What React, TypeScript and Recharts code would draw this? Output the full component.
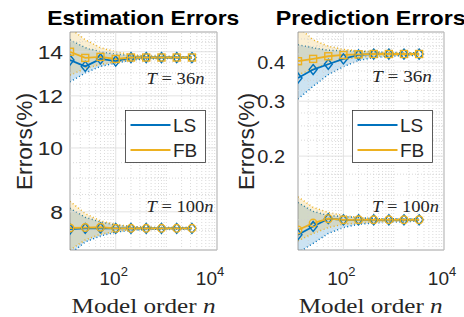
import React from "react";
import { ComposedChart, Line, Area, XAxis, YAxis, ReferenceLine, ReferenceArea } from "recharts";

const modelOrders = [12.5, 25, 50, 100, 200, 400, 800, 1600, 3200];
const seriesNames = ["LS", "FB"];
const panelTitles = ["Estimation Errors", "Prediction Errors"];
const horizonFactors = ["36", "100"];

// Estimation errors (%), T = 36n
const estLs36 = [13.6, 13.3, 13.65, 13.55, 13.72, 13.72, 13.72, 13.72, 13.72];
const estFb36 = [14.0, 13.7, 13.75, 13.65, 13.72, 13.72, 13.72, 13.72, 13.72];
const estLs36Lo = [12.6, 13.0, 13.3, 13.45, 13.6, 13.65, 13.67, 13.68, 13.69];
const estLs36Hi = [14.6, 14.2, 14.0, 13.88, 13.82, 13.79, 13.77, 13.76, 13.75];
const estFb36Lo = [12.9, 13.2, 13.4, 13.5, 13.62, 13.66, 13.68, 13.69, 13.7];
const estFb36Hi = [15.2, 14.6, 14.2, 14.0, 13.86, 13.8, 13.78, 13.76, 13.75];
// Estimation errors (%), T = 100n
const estLs100 = [7.53, 7.55, 7.56, 7.55, 7.55, 7.55, 7.55, 7.55, 7.55];
const estFb100 = [7.56, 7.57, 7.58, 7.55, 7.55, 7.55, 7.55, 7.55, 7.55];
const estLs100Lo = [6.9, 7.2, 7.35, 7.45, 7.5, 7.52, 7.53, 7.53, 7.53];
const estLs100Hi = [8.1, 7.85, 7.72, 7.64, 7.6, 7.58, 7.57, 7.57, 7.57];
const estFb100Lo = [7.0, 7.25, 7.4, 7.47, 7.51, 7.52, 7.53, 7.53, 7.53];
const estFb100Hi = [8.3, 7.95, 7.75, 7.65, 7.6, 7.58, 7.57, 7.57, 7.57];

// Prediction errors (%), T = 36n
const predLs36 = [0.356, 0.379, 0.394, 0.41, 0.422, 0.425, 0.425, 0.425, 0.425];
const predFb36 = [0.403, 0.41, 0.418, 0.422, 0.424, 0.425, 0.425, 0.425, 0.425];
const predLs36Lo = [0.305, 0.335, 0.365, 0.387, 0.405, 0.414, 0.418, 0.42, 0.421];
const predLs36Hi = [0.455, 0.445, 0.437, 0.435, 0.434, 0.432, 0.43, 0.429, 0.429];
const predFb36Lo = [0.365, 0.38, 0.397, 0.408, 0.415, 0.418, 0.42, 0.421, 0.421];
const predFb36Hi = [0.52, 0.472, 0.45, 0.44, 0.435, 0.432, 0.43, 0.429, 0.429];
// Prediction errors (%), T = 100n
const predLs100 = [0.112, 0.119, 0.126, 0.125, 0.125, 0.125, 0.125, 0.125, 0.125];
const predFb100 = [0.116, 0.122, 0.126, 0.125, 0.125, 0.125, 0.125, 0.125, 0.125];
const predLs100Lo = [0.098, 0.105, 0.113, 0.118, 0.121, 0.122, 0.123, 0.123, 0.124];
const predLs100Hi = [0.142, 0.133, 0.129, 0.128, 0.127, 0.126, 0.126, 0.126, 0.126];
const predFb100Lo = [0.107, 0.113, 0.118, 0.121, 0.122, 0.123, 0.123, 0.124, 0.124];
const predFb100Hi = [0.148, 0.137, 0.132, 0.129, 0.127, 0.126, 0.126, 0.126, 0.126];

const xTicks = [100, 10000];
const xMinor = [20, 30, 40, 50, 60, 70, 80, 90, 200, 300, 400, 500, 600, 700, 800, 900, 1000, 2000, 3000, 4000, 5000, 6000, 7000, 8000, 9000];
const estTicks = [8, 10, 12, 14];
const estMinor = [7.5, 8.5, 9, 9.5, 10.5, 11, 11.5, 12.5, 13, 13.5, 14.5];
const predTicks = [0.2, 0.3, 0.4];
const predMinor = [0.125, 0.15, 0.175, 0.225, 0.25, 0.275, 0.325, 0.35, 0.375, 0.425, 0.45, 0.475];

const SANS = "'Liberation Sans', Arial, Helvetica, sans-serif";
const SERIF = "'Liberation Serif', 'Times New Roman', serif";
const LS_COLOR = "#0072BD";
const FB_COLOR = "#EDB120";
const X_DOMAIN = [12.5, 10000];

function buildRows(ls36, fb36, ls100, fb100, bands) {
  return modelOrders.map((n, i) => ({
    n,
    ls36: ls36[i],
    fb36: fb36[i],
    ls100: ls100[i],
    fb100: fb100[i],
    lsBand36: [bands[0][i], bands[1][i]],
    fbBand36: [bands[2][i], bands[3][i]],
    lsBand100: [bands[4][i], bands[5][i]],
    fbBand100: [bands[6][i], bands[7][i]],
  }));
}

const estRows = buildRows(estLs36, estFb36, estLs100, estFb100, [
  estLs36Lo, estLs36Hi, estFb36Lo, estFb36Hi, estLs100Lo, estLs100Hi, estFb100Lo, estFb100Hi,
]);
const predRows = buildRows(predLs36, predFb36, predLs100, predFb100, [
  predLs36Lo, predLs36Hi, predFb36Lo, predFb36Hi, predLs100Lo, predLs100Hi, predFb100Lo, predFb100Hi,
]);

const XTick = (props: any) => {
  const { x, y, payload } = props;
  const exp = Math.round(Math.log10(payload.value));
  return (
    <text x={x - 2} y={y + 35} textAnchor="middle" fontFamily={SANS} fontSize={19} fill="#262626">
      <tspan>10</tspan>
      <tspan dy={-9} fontSize={13}>{exp}</tspan>
    </text>
  );
};

const makeYTick = (gap: number, size: number, sx: number) => (props: any) => {
  const { x, y, payload } = props;
  return (
    <text
      transform={`translate(${x - gap},${y + size * 0.36}) scale(${sx},1)`}
      textAnchor="end"
      fontFamily={SANS}
      fontSize={size}
      fill="#262626"
    >
      {payload.value}
    </text>
  );
};

const diamond = (color: string) => (props: any) => {
  const { cx, cy, index } = props;
  if (cx == null || cy == null) return <g key={`dm-${index}`} />;
  return (
    <path
      key={`dm-${index}`}
      d={`M${cx},${cy - 5}L${cx + 4},${cy}L${cx},${cy + 5}L${cx - 4},${cy}Z`}
      fill="none"
      stroke={color}
      strokeWidth={1.4}
    />
  );
};

const square = (color: string) => (props: any) => {
  const { cx, cy, index } = props;
  if (cx == null || cy == null) return <g key={`sq-${index}`} />;
  return <rect key={`sq-${index}`} x={cx - 3.5} y={cy - 3.5} width={7} height={7} fill="none" stroke={color} strokeWidth={1.4} />;
};

const circle = (color: string) => (props: any) => {
  const { cx, cy, index } = props;
  if (cx == null || cy == null) return <g key={`ci-${index}`} />;
  return <circle key={`ci-${index}`} cx={cx} cy={cy} r={3.8} fill="none" stroke={color} strokeWidth={1.4} />;
};

function band(key: string, color: string) {
  return (
    <Area
      key={key}
      dataKey={key}
      type="linear"
      fill={color}
      fillOpacity={0.2}
      stroke={color}
      strokeWidth={1.5}
      strokeDasharray="1 2.5"
      dot={false}
      activeDot={false}
      isAnimationActive={false}
    />
  );
}

function Panel({ rows, yDomain, yTicks, yMinor, yAxisWidth, rightMargin, tickGap, tickSize, tickScale }: any) {
  return (
    <ComposedChart width={232} height={317} data={rows} margin={{ top: 32, right: rightMargin, bottom: 0, left: 0 }}>
      <XAxis
        dataKey="n"
        type="number"
        scale="log"
        domain={X_DOMAIN}
        ticks={xTicks}
        allowDataOverflow
        height={67}
        tickLine={false}
        axisLine={false}
        tickSize={0}
        tickMargin={0}
        tick={XTick}
      />
      <YAxis
        type="number"
        scale="log"
        domain={yDomain}
        ticks={yTicks}
        allowDataOverflow
        width={yAxisWidth}
        tickLine={false}
        axisLine={false}
        tickSize={0}
        tickMargin={0}
        tick={makeYTick(tickGap, tickSize, tickScale)}
      />
      {xMinor.map((v) => (
        <ReferenceLine key={`xm-${v}`} x={v} stroke="#d0d0d0" strokeDasharray="1 2" strokeWidth={0.8} />
      ))}
      {yMinor.map((v: number) => (
        <ReferenceLine key={`ym-${v}`} y={v} stroke="#d0d0d0" strokeDasharray="1 2" strokeWidth={0.8} />
      ))}
      {xTicks.map((v) => (
        <ReferenceLine key={`xM-${v}`} x={v} stroke="#dcdcdc" strokeWidth={0.8} />
      ))}
      {yTicks.map((v: number) => (
        <ReferenceLine key={`yM-${v}`} y={v} stroke="#dcdcdc" strokeWidth={0.8} />
      ))}
      {band("lsBand36", LS_COLOR)}
      {band("fbBand36", FB_COLOR)}
      {band("lsBand100", LS_COLOR)}
      {band("fbBand100", FB_COLOR)}
      <Line dataKey="ls36" type="linear" stroke={LS_COLOR} strokeWidth={1.8} dot={diamond(LS_COLOR)} activeDot={false} isAnimationActive={false} />
      <Line dataKey="ls100" type="linear" stroke={LS_COLOR} strokeWidth={1.8} dot={diamond(LS_COLOR)} activeDot={false} isAnimationActive={false} />
      <Line dataKey="fb36" type="linear" stroke={FB_COLOR} strokeWidth={1.8} dot={square(FB_COLOR)} activeDot={false} isAnimationActive={false} />
      <Line dataKey="fb100" type="linear" stroke={FB_COLOR} strokeWidth={1.8} dot={circle(FB_COLOR)} activeDot={false} isAnimationActive={false} />
      <ReferenceArea x1={X_DOMAIN[0]} x2={X_DOMAIN[1]} y1={yDomain[0]} y2={yDomain[1]} fill="none" fillOpacity={0} stroke="#8c8c8c" strokeWidth={0.8} />
    </ComposedChart>
  );
}

function Horizon({ x, y, factor, len }: any) {
  return (
    <text x={x} y={y} fontFamily={SERIF} fontSize={17} fill="#262626" textLength={len} lengthAdjust="spacingAndGlyphs">
      <tspan fontStyle="italic">T</tspan>
      <tspan> = {factor}</tspan>
      <tspan fontStyle="italic">n</tspan>
    </text>
  );
}

function LegendBox({ x }: { x: number }) {
  return (
    <g>
      <rect x={x + 0.5} y={110.5} width={80} height={52} fill="#ffffff" stroke="#333333" strokeWidth={0.8} />
      <line x1={x + 5.5} x2={x + 45.5} y1={125} y2={125} stroke={LS_COLOR} strokeWidth={2} />
      <line x1={x + 5.5} x2={x + 45.5} y1={150} y2={150} stroke={FB_COLOR} strokeWidth={2} />
      <text x={x + 48} y={131.7} fontFamily={SANS} fontSize={19} fill="#262626">{seriesNames[0]}</text>
      <text x={x + 48} y={156.7} fontFamily={SANS} fontSize={19} fill="#262626">{seriesNames[1]}</text>
    </g>
  );
}

export default function App() {
  return (
    <div style={{ position: "absolute", left: 0, top: 0, width: 464, height: 317, background: "#ffffff", overflow: "hidden" }}>
      <div style={{ position: "absolute", left: 0, top: 0 }}>
        <Panel rows={estRows} yDomain={[7, 15]} yTicks={estTicks} yMinor={estMinor} yAxisWidth={70} rightMargin={15} tickGap={7} tickSize={19} tickScale={1.2} />
      </div>
      <div style={{ position: "absolute", left: 232, top: 0 }}>
        <Panel rows={predRows} yDomain={[0.1, 0.5]} yTicks={predTicks} yMinor={predMinor} yAxisWidth={66} rightMargin={20} tickGap={13} tickSize={19} tickScale={1.05} />
      </div>
      <svg width={464} height={317} style={{ position: "absolute", left: 0, top: 0, pointerEvents: "none" }}>
        <text x={143.3} y={25} textAnchor="middle" fontFamily={SANS} fontWeight="bold" fontSize={21} fill="#000" textLength={192} lengthAdjust="spacingAndGlyphs">{panelTitles[0]}</text>
        <text x={370.7} y={25} textAnchor="middle" fontFamily={SANS} fontWeight="bold" fontSize={21} fill="#000" textLength={190} lengthAdjust="spacingAndGlyphs">{panelTitles[1]}</text>
        <text transform="translate(31.5,141.5) rotate(-90)" textAnchor="middle" fontFamily={SANS} fontSize={22} fill="#262626" textLength={97} lengthAdjust="spacingAndGlyphs">Errors(%)</text>
        <text transform="translate(253.5,141.5) rotate(-90)" textAnchor="middle" fontFamily={SANS} fontSize={22} fill="#262626" textLength={97} lengthAdjust="spacingAndGlyphs">Errors(%)</text>
        <text x={143.5} y={313} textAnchor="middle" fontFamily={SERIF} fontSize={20} fill="#262626" textLength={144} lengthAdjust="spacingAndGlyphs">
          Model order <tspan fontStyle="italic">n</tspan>
        </text>
        <text x={370.7} y={313} textAnchor="middle" fontFamily={SERIF} fontSize={20} fill="#262626" textLength={144} lengthAdjust="spacingAndGlyphs">
          Model order <tspan fontStyle="italic">n</tspan>
        </text>
        <Horizon x={146.5} y={84} factor={horizonFactors[0]} len={58} />
        <Horizon x={146.5} y={212} factor={horizonFactors[1]} len={67} />
        <Horizon x={372} y={82} factor={horizonFactors[0]} len={60} />
        <Horizon x={372} y={212} factor={horizonFactors[1]} len={67} />
        <LegendBox x={125} />
        <LegendBox x={352} />
      </svg>
    </div>
  );
}
